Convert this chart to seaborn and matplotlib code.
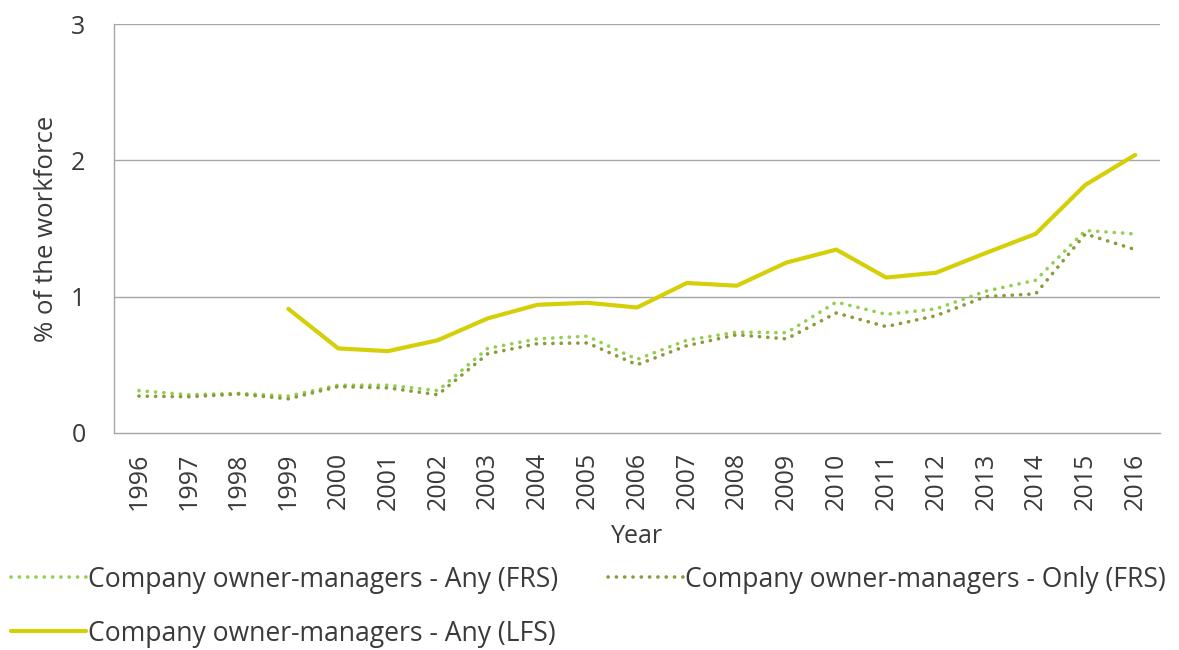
import numpy as np
import pandas as pd
import matplotlib
matplotlib.use("Agg")
import matplotlib.pyplot as plt
from matplotlib.ticker import FixedLocator
import seaborn as sns

years = list(range(1996, 2017))

any_frs = [0.31, 0.28, 0.29, 0.27, 0.35, 0.35, 0.31, 0.62, 0.69, 0.71, 0.54,
           0.68, 0.74, 0.735, 0.96, 0.87, 0.91, 1.04, 1.12, 1.485, 1.46]
only_frs = [0.27, 0.265, 0.285, 0.25, 0.34, 0.33, 0.28, 0.58, 0.655, 0.66, 0.50,
            0.64, 0.72, 0.69, 0.88, 0.78, 0.86, 1.00, 1.02, 1.46, 1.345]
any_lfs = [np.nan, np.nan, np.nan, 0.91, 0.62, 0.60, 0.68, 0.84, 0.94, 0.955, 0.92,
           1.10, 1.08, 1.25, 1.345, 1.14, 1.175, 1.32, 1.46, 1.82, 2.04]

series_names = ["Company owner-managers - Any (FRS)",
                "Company owner-managers - Only (FRS)",
                "Company owner-managers - Any (LFS)"]
y_ticks = [0, 1, 2, 3]

sns.set_theme(style="white")
plt.rcParams["font.family"] = ["Open Sans", "DejaVu Sans"]
text_color = "#3a3a3a"
grid_color = "#a6a6a6"

fig = plt.figure(figsize=(11.79, 6.5), dpi=100)
ax = fig.add_axes([0.0967, 0.334, 0.8873, 0.629])

dot_style = (0, (0.05, 2.25))
sns.lineplot(x=years, y=any_frs, ax=ax, color="#92d050", linewidth=2.6,
             linestyle=dot_style, dash_capstyle="round", label=series_names[0])
sns.lineplot(x=years, y=only_frs, ax=ax, color="#8c9a3c", linewidth=2.6,
             linestyle=dot_style, dash_capstyle="round", label=series_names[1])
sns.lineplot(x=years, y=any_lfs, ax=ax, color="#d4cf06", linewidth=3.0,
             label=series_names[2])

ax.set_xlim(years[0] - 0.5, years[-1] + 0.5)
ax.set_ylim(0, 3)
ax.set_yticks(y_ticks)
ax.set_xticks(years)
ax.set_xticklabels([str(y) for y in years], rotation=90)
ax.xaxis.set_minor_locator(FixedLocator([y - 0.5 for y in years] + [years[-1] + 0.5]))

ax.tick_params(axis="x", which="major", length=0, pad=14, labelsize=18, labelcolor=text_color)
ax.tick_params(axis="x", which="minor", length=6, width=1, color=grid_color, direction="out")
ax.tick_params(axis="y", which="major", length=6.5, width=1, color=grid_color, pad=14,
               labelsize=18, labelcolor=text_color)

for y in y_ticks[1:]:
    ax.axhline(y, color=grid_color, linewidth=1, zorder=0)

for side in ["top", "right"]:
    ax.spines[side].set_visible(False)
for side in ["left", "bottom"]:
    ax.spines[side].set_color(grid_color)
    ax.spines[side].set_linewidth(1)

ax.set_xlabel("Year", fontsize=18, color=text_color, labelpad=10)
ax.set_ylabel("% of the workforce", fontsize=18.5, color=text_color, labelpad=9)

# legend rows: both FRS series on the first row, the LFS series below
handles, labels = ax.get_legend_handles_labels()
ax.get_legend().remove()
order = [0, 2, 1]
fig.legend([handles[i] for i in order], [labels[i] for i in order],
           loc="upper left", bbox_to_anchor=(0.0, 0.146),
           ncol=2, frameon=False, fontsize=19.1, handlelength=2.85, handletextpad=0.05,
           columnspacing=1.9, labelspacing=0.98, labelcolor=text_color,
           borderaxespad=0)

fig.savefig("out.png", dpi=100)
